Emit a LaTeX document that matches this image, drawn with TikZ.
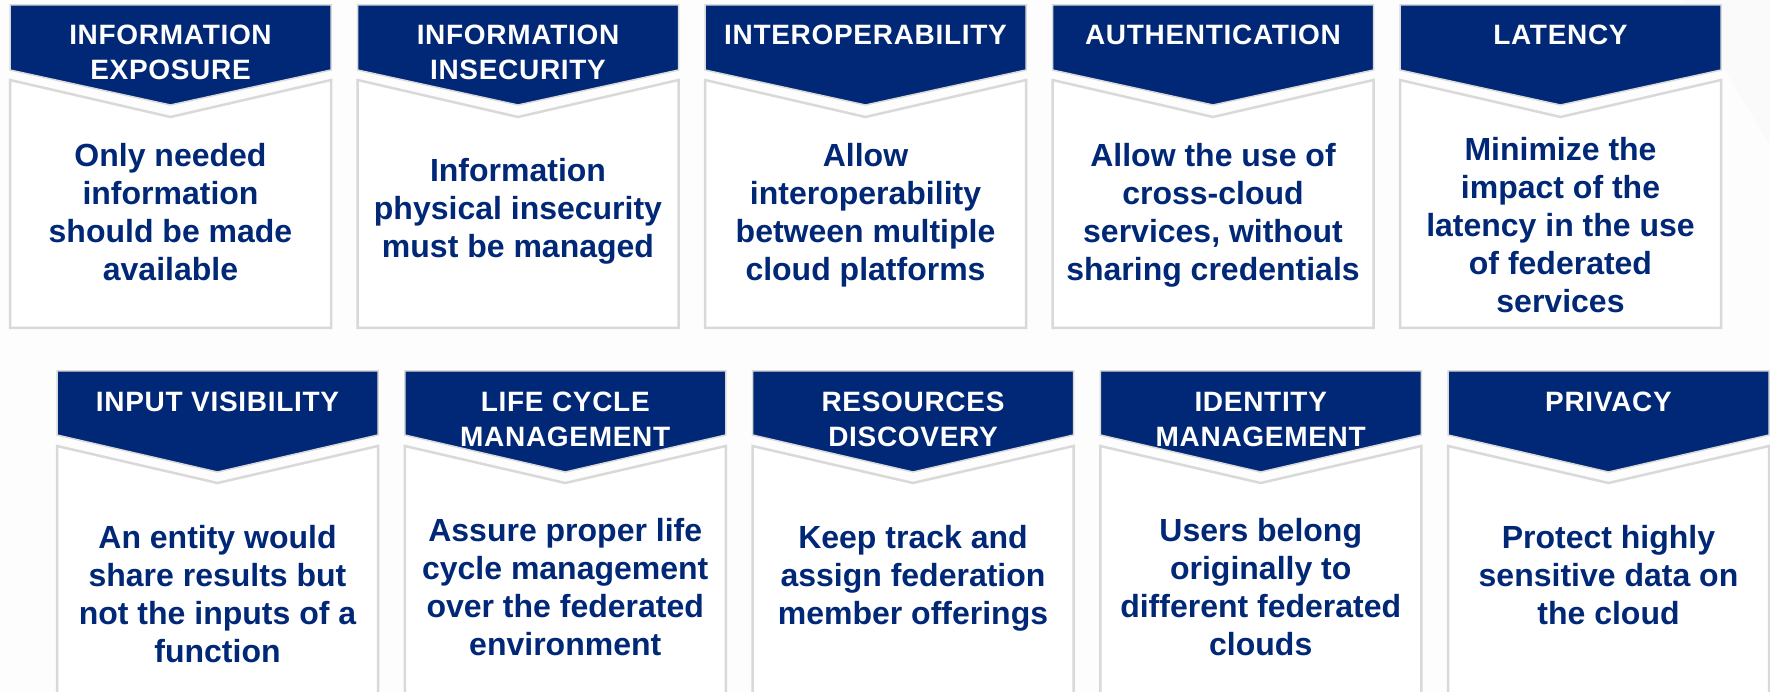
\documentclass[tikz,border=0pt]{standalone}
\usepackage{fontspec}
\setmainfont{Liberation Sans}
\newfontfamily\headfont[LetterSpace=2.5]{Liberation Sans}
\usepackage{tikz}
\usepackage{xcolor}
\usetikzlibrary{positioning}
\definecolor{navy}{RGB}{0,40,118}
\definecolor{framegray}{RGB}{217,217,217}
\definecolor{pagegray}{RGB}{253,253,253}

\begin{document}
\begin{tikzpicture}[x=1pt, y=-1pt,
    cardhead/.style={fill=navy, draw=framegray, line width=1.5pt},
    cardbox/.style={fill=white, draw=framegray, line width=2.5pt},
    headtext/.style={anchor=north, inner sep=0pt, align=center, text=white,
        font=\headfont\bfseries\fontsize{28}{35}\selectfont},
    bodytext/.style={anchor=north, inner sep=0pt, align=center, text=navy,
        font=\bfseries\fontsize{32}{38}\selectfont}]

                    \clip (0, 0) rectangle (1770, 692);
                    \fill[pagegray] (0, 0) rectangle (1770, 692);
                    \fill[gray!4] (1683, 0) -- (1770, 0) -- (1770, 145) -- cycle;

                    % top row
                    \draw[cardbox] (10, 80) -- ++(160.5, 37) -- ++(160.5, -37) -- ++(0, 248) -- ++(-321, 0) -- cycle;
                    \draw[cardhead] (10, 5) -- ++(321, 0) -- ++(0, 65) -- ++(-160.5, 35) -- ++(-160.5, -35) -- cycle;
                    \node[headtext] (head1) at (170.5, 25) {INFORMATION\\EXPOSURE};
                    \node[bodytext] (body1) at (170.5, 143) {Only needed\\information\\should be made\\available};

                    \draw[cardbox] (357.5, 80) -- ++(160.5, 37) -- ++(160.5, -37) -- ++(0, 248) -- ++(-321, 0) -- cycle;
                    \draw[cardhead] (357.5, 5) -- ++(321, 0) -- ++(0, 65) -- ++(-160.5, 35) -- ++(-160.5, -35) -- cycle;
                    \node[headtext] (head2) at (518, 25) {INFORMATION\\INSECURITY};
                    \node[bodytext] (body2) at (518, 158) {Information\\physical insecurity\\must be managed};

                    \draw[cardbox] (705, 80) -- ++(160.5, 37) -- ++(160.5, -37) -- ++(0, 248) -- ++(-321, 0) -- cycle;
                    \draw[cardhead] (705, 5) -- ++(321, 0) -- ++(0, 65) -- ++(-160.5, 35) -- ++(-160.5, -35) -- cycle;
                    \node[headtext] (head3) at (865.5, 25) {INTEROPERABILITY};
                    \node[bodytext] (body3) at (865.5, 143) {Allow\\interoperability\\between multiple\\cloud platforms};

                    \draw[cardbox] (1052.5, 80) -- ++(160.5, 37) -- ++(160.5, -37) -- ++(0, 248) -- ++(-321, 0) -- cycle;
                    \draw[cardhead] (1052.5, 5) -- ++(321, 0) -- ++(0, 65) -- ++(-160.5, 35) -- ++(-160.5, -35) -- cycle;
                    \node[headtext] (head4) at (1213, 25) {AUTHENTICATION};
                    \node[bodytext] (body4) at (1213, 143) {Allow the use of\\cross-cloud\\services, without\\sharing credentials};

                    \draw[cardbox] (1400, 80) -- ++(160.5, 37) -- ++(160.5, -37) -- ++(0, 248) -- ++(-321, 0) -- cycle;
                    \draw[cardhead] (1400, 5) -- ++(321, 0) -- ++(0, 65) -- ++(-160.5, 35) -- ++(-160.5, -35) -- cycle;
                    \node[headtext] (head5) at (1560.5, 25) {LATENCY};
                    \node[bodytext] (body5) at (1560.5, 137) {Minimize the\\impact of the\\latency in the use\\of federated\\services};

                    % bottom row
                    \draw[cardbox] (57, 446) -- ++(160.5, 37) -- ++(160.5, -37) -- ++(0, 260) -- ++(-321, 0) -- cycle;
                    \draw[cardhead] (57, 371) -- ++(321, 0) -- ++(0, 64) -- ++(-160.5, 37) -- ++(-160.5, -37) -- cycle;
                    \node[headtext] (head6) at (217.5, 392) {INPUT VISIBILITY};
                    \node[bodytext] (body6) at (217.5, 525) {An entity would\\share results but\\not the inputs of a\\function};

                    \draw[cardbox] (404.75, 446) -- ++(160.5, 37) -- ++(160.5, -37) -- ++(0, 260) -- ++(-321, 0) -- cycle;
                    \draw[cardhead] (404.75, 371) -- ++(321, 0) -- ++(0, 64) -- ++(-160.5, 37) -- ++(-160.5, -37) -- cycle;
                    \node[headtext] (head7) at (565.25, 392) {LIFE CYCLE\\MANAGEMENT};
                    \node[bodytext] (body7) at (565.25, 518) {Assure proper life\\cycle management\\over the federated\\environment};

                    \draw[cardbox] (752.5, 446) -- ++(160.5, 37) -- ++(160.5, -37) -- ++(0, 260) -- ++(-321, 0) -- cycle;
                    \draw[cardhead] (752.5, 371) -- ++(321, 0) -- ++(0, 64) -- ++(-160.5, 37) -- ++(-160.5, -37) -- cycle;
                    \node[headtext] (head8) at (913, 392) {RESOURCES\\DISCOVERY};
                    \node[bodytext] (body8) at (913, 525) {Keep track and\\assign federation\\member offerings};

                    \draw[cardbox] (1100.25, 446) -- ++(160.5, 37) -- ++(160.5, -37) -- ++(0, 260) -- ++(-321, 0) -- cycle;
                    \draw[cardhead] (1100.25, 371) -- ++(321, 0) -- ++(0, 64) -- ++(-160.5, 37) -- ++(-160.5, -37) -- cycle;
                    \node[headtext] (head9) at (1260.75, 392) {IDENTITY\\MANAGEMENT};
                    \node[bodytext] (body9) at (1260.75, 518) {Users belong\\originally to\\different federated\\clouds};

                    \draw[cardbox] (1448, 446) -- ++(160.5, 37) -- ++(160.5, -37) -- ++(0, 260) -- ++(-321, 0) -- cycle;
                    \draw[cardhead] (1448, 371) -- ++(321, 0) -- ++(0, 64) -- ++(-160.5, 37) -- ++(-160.5, -37) -- cycle;
                    \node[headtext] (head10) at (1608.5, 392) {PRIVACY};
                    \node[bodytext] (body10) at (1608.5, 525) {Protect highly\\sensitive data on\\the cloud};
                \end{tikzpicture}
\end{document}
